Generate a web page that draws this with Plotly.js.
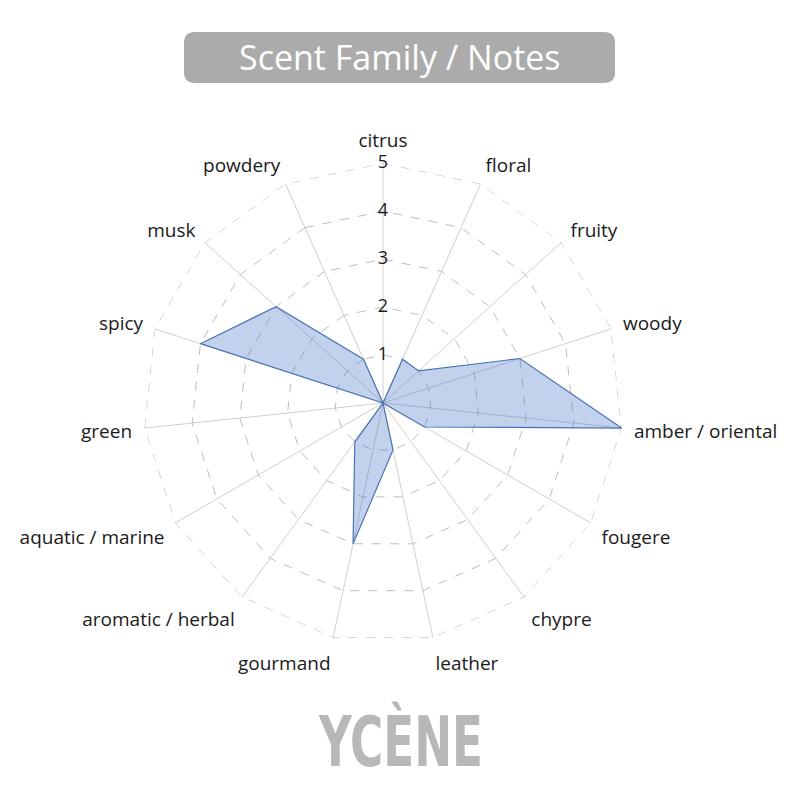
<!DOCTYPE html>
<html>
<head>
<meta charset="utf-8">
<script src="https://cdn.plot.ly/plotly-3.0.1.min.js"></script>
<style>
  body { margin: 0; background: #fff; }
  #chart { width: 800px; height: 800px; }
</style>
</head>
<body>
<div id="chart"></div>
<script>
// scent families, clockwise from the top
const families = ["citrus", "floral", "fruity", "woody", "amber / oriental", "fougere", "chypre",
    "leather", "gourmand", "aromatic / herbal", "aquatic / marine", "green", "spicy", "musk", "powdery"];
const scores = [0, 1, 1, 3, 5, 1, 0, 1, 3, 1, 0, 0, 4, 3, 1];
const scaleTicks = [0, 1, 2, 3, 4, 5];
const scaleMax = Math.max(...scaleTicks);

const W = 800, H = 800;
const px = (x) => x / W;
const py = (y) => 1 - y / H;

// rounded box behind the title, in pixels
const roundRect = (x0, y0, x1, y1, r) => {
    const X = px, Y = py;
    return `M ${X(x0 + r)} ${Y(y0)} L ${X(x1 - r)} ${Y(y0)} Q ${X(x1)} ${Y(y0)} ${X(x1)} ${Y(y0 + r)}` +
        ` L ${X(x1)} ${Y(y1 - r)} Q ${X(x1)} ${Y(y1)} ${X(x1 - r)} ${Y(y1)}` +
        ` L ${X(x0 + r)} ${Y(y1)} Q ${X(x0)} ${Y(y1)} ${X(x0)} ${Y(y1 - r)}` +
        ` L ${X(x0)} ${Y(y0 + r)} Q ${X(x0)} ${Y(y0)} ${X(x0 + r)} ${Y(y0)} Z`;
};

const cx = 383, cy = 403, R = 240;

const data = [{
    // outer dashed ring (plotly skips the grid line at the range end)
    type: "scatterpolar",
    r: families.map(() => scaleMax).concat([scaleMax]),
    theta: families.concat([families[0]]),
    mode: "lines",
    line: {color: "#bdbdbd", width: 1, dash: "dash"},
    hoverinfo: "skip"
}, {
    type: "scatterpolar",
    r: scores.concat([scores[0]]),
    theta: families.concat([families[0]]),
    mode: "lines",
    fill: "toself",
    fillcolor: "rgba(68,114,196,0.32)",
    line: {color: "#4a72b8", width: 1.2},
    hoverinfo: "skip"
}, {
    type: "scatterpolar",
    r: scaleTicks,
    theta: scaleTicks.map(() => families[0]),
    mode: "text",
    text: scaleTicks.map(String),
    textposition: "middle center",
    textfont: {family: "Open Sans", size: 18, color: "#1a1a1a"},
    hoverinfo: "skip"
}];

const layout = {
    width: W,
    height: H,
    margin: {l: 0, r: 0, t: 0, b: 0},
    paper_bgcolor: "#fff",
    showlegend: false,
    polar: {
        domain: {x: [px(cx - R), px(cx + R)], y: [py(cy + R), py(cy - R)]},
        gridshape: "linear",
        bgcolor: "rgba(0,0,0,0)",
        radialaxis: {
            range: [0, scaleMax + 0.002],
            tickvals: scaleTicks,
            showticklabels: false,
            ticks: "",
            showline: false,
            gridcolor: "#bdbdbd",
            griddash: "dash",
            gridwidth: 1,
            angle: 90
        },
        angularaxis: {
            rotation: 90,
            direction: "clockwise",
            showline: false,
            ticks: "outside",
            ticklen: 8,
            tickcolor: "rgba(0,0,0,0)",
            gridcolor: "#cfcfcf",
            gridwidth: 1,
            tickfont: {family: "Open Sans", size: 19, color: "#1a1a1a"}
        }
    },
    shapes: [{
        type: "path",
        xref: "paper",
        yref: "paper",
        path: roundRect(184, 32, 615, 83, 11),
        fillcolor: "#ababab",
        line: {width: 0},
        layer: "below"
    }],
    annotations: [{
        xref: "paper",
        yref: "paper",
        x: px(399.5),
        y: py(57),
        xanchor: "center",
        yanchor: "middle",
        text: "Scent Family / Notes",
        showarrow: false,
        font: {family: "Open Sans", size: 34, color: "#fff"}
    }, {
        xref: "paper",
        yref: "paper",
        x: px(400),
        y: py(742),
        xanchor: "center",
        yanchor: "middle",
        text: "YCÈNE",
        showarrow: false,
        font: {family: "DejaVu Sans Condensed, sans-serif", size: 70, weight: "bold", color: "#b8b8b8"}
    }]
};

Plotly.newPlot("chart", data, layout, {displayModeBar: false, staticPlot: true}).then(() => {
    // squeeze the wordmark to the narrow width of the logo
    const logo = [...document.querySelectorAll(".annotation-text")].find(t => t.textContent === "YCÈNE");
    if (logo) {
        logo.setAttribute("textLength", 164);
        logo.setAttribute("lengthAdjust", "spacingAndGlyphs");
    }
});
</script>
</body>
</html>
